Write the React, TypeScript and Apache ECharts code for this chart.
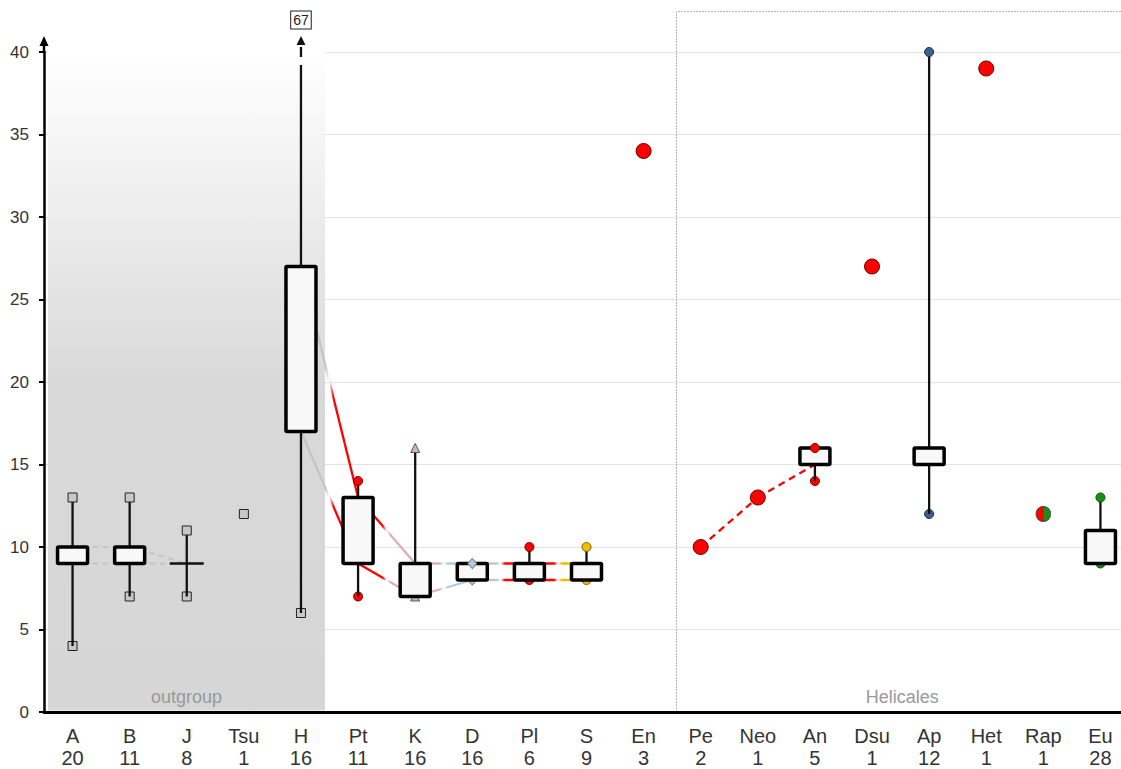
import React, { useEffect, useRef } from "react";
import * as echarts from "echarts";

const categories = ["A", "B", "J", "Tsu", "H", "Pt", "K", "D", "Pl", "S", "En", "Pe", "Neo", "An", "Dsu", "Ap", "Het", "Rap", "Eu"];
const counts = [20, 11, 8, 1, 16, 11, 16, 16, 6, 9, 3, 2, 1, 5, 1, 12, 1, 1, 28];

// box statistics (null = no box for that group)
const boxMin = [4, 7, 7, null, 6, 7, 7, 8, 8, 8, null, null, null, 14, null, 12, null, null, 9];
const boxQ1 = [9, 9, 9, null, 17, 9, 7, 8, 8, 8, null, null, null, 15, null, 15, null, null, 9];
const boxQ3 = [10, 10, 9, null, 27, 13, 9, 9, 9, 9, null, null, null, 16, null, 16, null, null, 11];
const boxMax = [13, 13, 11, null, 67, 14, 16, 9, 10, 10, null, null, null, 16, null, 40, null, null, 13];

// single observations
const singleValues = [null, null, null, 12, null, null, null, null, null, null, 34, 10, 13, null, 27, null, 39, 12, null];

// links between consecutive groups (Q3->Q3 and Q1->Q1)
const outgroupPairs = [["A", "B"], ["B", "J"]];
const gradientPairs = [["H", "Pt"], ["Pt", "K"], ["K", "D"], ["D", "Pl"], ["Pl", "S"]];
const helicalesTrend = ["Pe", "Neo", "An"];

const Y_MIN = 0;
const Y_MAX = 40;
const Y_STEP = 5;

const FONT = "'Liberation Sans', Arial, sans-serif";

const GRAY = "#c8c8c8";
const RED = "#ff0000";
const catColor = [GRAY, GRAY, GRAY, GRAY, GRAY, RED, "#d8b2b2", "#b3cae2", RED, "#f4bb00", RED, RED, RED, RED, RED, "#3c6091", RED, RED, "#169016"];
const catBorder = ["#222", "#222", "#222", "#222", "#222", "#700", "#555", "#777", "#700", "#7a5a00", "#600", "#600", "#600", "#700", "#600", "#1c2c44", "#600", "#333", "#0b4d0b"];
const catSymbol = ["rect", "rect", "rect", "rect", "rect", "circle", "triangle", "diamond", "circle", "circle", "circle", "circle", "circle", "circle", "circle", "circle", "circle", "circle", "circle"];
const linkColor = ["#c4c4c4", "#c4c4c4", "#c4c4c4", "#c4c4c4", "#c4c4c4", RED, "#d8b0b0", "#b3cae2", RED, "#f4bb00"];
const splitColors = ["#ff0000", "#169016"]; // Rap: left / right half

const idx = (c: string) => categories.indexOf(c);
const pointValue = (i: number) => (singleValues[i] != null ? singleValues[i] : boxQ1[i]);

type Link = { x1: number; v1: number; x2: number; v2: number; kind: string };
const links: Link[] = [];
outgroupPairs.forEach(([a, b]) => {
  const i = idx(a), j = idx(b);
  links.push({ x1: i, v1: boxQ3[i] as number, x2: j, v2: boxQ3[j] as number, kind: "grayDash" });
  links.push({ x1: i, v1: boxQ1[i] as number, x2: j, v2: boxQ1[j] as number, kind: "grayDash" });
});
gradientPairs.forEach(([a, b]) => {
  const i = idx(a), j = idx(b);
  links.push({ x1: i, v1: boxQ3[i] as number, x2: j, v2: boxQ3[j] as number, kind: "gradient" });
  links.push({ x1: i, v1: boxQ1[i] as number, x2: j, v2: boxQ1[j] as number, kind: "gradient" });
});
for (let k = 0; k + 1 < helicalesTrend.length; k++) {
  const i = idx(helicalesTrend[k]), j = idx(helicalesTrend[k + 1]);
  links.push({ x1: i, v1: pointValue(i) as number, x2: j, v2: pointValue(j) as number, kind: "redDash" });
}

const App: React.FC = () => {
  const ref = useRef<HTMLDivElement>(null);

  useEffect(() => {
    if (!ref.current) return;
    const chart = echarts.init(ref.current, null, { renderer: "svg" });

    const boxData = categories
      .map((c, i) => (boxQ1[i] != null ? [i, boxMin[i], boxQ1[i], boxQ3[i], boxMax[i]] : null))
      .filter((d) => d != null);

    const minMarkers: any[] = [];
    const maxMarkers: any[] = [];
    categories.forEach((c, i) => {
      if (boxQ1[i] == null) return;
      const st = {
        symbol: catSymbol[i],
        symbolSize: catSymbol[i] === "diamond" ? [9, 10] : 9,
        itemStyle: { color: catColor[i], borderColor: catBorder[i], borderWidth: 1, opacity: 1 },
      };
      minMarkers.push({ value: [i, boxMin[i]], ...st });
      if ((boxMax[i] as number) <= Y_MAX) maxMarkers.push({ value: [i, boxMax[i]], ...st });
    });

    const singles: any[] = [];
    categories.forEach((c, i) => {
      if (singleValues[i] == null) return;
      if (c === "Rap") {
        singles.push({
          value: [i, singleValues[i]],
          symbol: "path://M10 0 A10 10 0 0 0 10 20 Z",
          symbolSize: [7.5, 15],
          symbolOffset: [-3.75, 0],
          itemStyle: { color: splitColors[0], borderColor: "#444", borderWidth: 0.8, opacity: 1 },
        });
        singles.push({
          value: [i, singleValues[i]],
          symbol: "path://M0 0 A10 10 0 0 1 0 20 Z",
          symbolSize: [7.5, 15],
          symbolOffset: [3.75, 0],
          itemStyle: { color: splitColors[1], borderColor: "#444", borderWidth: 0.8, opacity: 1 },
        });
      } else if (catSymbol[i] === "rect") {
        singles.push({
          value: [i, singleValues[i]],
          symbol: "rect",
          symbolSize: 9,
          itemStyle: { color: catColor[i], borderColor: catBorder[i], borderWidth: 1, opacity: 1 },
        });
      } else {
        singles.push({
          value: [i, singleValues[i]],
          symbol: "circle",
          symbolSize: 15,
          itemStyle: { color: catColor[i], borderColor: catBorder[i], borderWidth: 1, opacity: 1 },
        });
      }
    });

    const option: any = {
      animation: false,
      grid: { left: 44, right: 11, top: 52, bottom: 56 },
      xAxis: {
        type: "category",
        data: categories,
        z: 3,
        axisLine: { lineStyle: { color: "#000", width: 3 } },
        axisTick: { show: false },
        splitLine: { show: false },
        axisLabel: {
          interval: 0,
          margin: 13,
          fontSize: 20,
          lineHeight: 22,
          color: "#333",
          fontFamily: FONT,
          formatter: (v: string, i: number) => `${v}\n${counts[i]}`,
        },
      },
      yAxis: {
        type: "value",
        min: Y_MIN,
        max: Y_MAX,
        interval: Y_STEP,
        axisLine: { show: true, lineStyle: { color: "#000", width: 2.5 } },
        axisTick: { show: true, length: 5, lineStyle: { color: "#000", width: 2 } },
        axisLabel: { margin: 15, fontSize: 17, color: "#333", fontFamily: FONT },
        splitLine: { lineStyle: { color: "#e3e3e3", width: 1 } },
      },
      series: [
        {
          type: "custom",
          name: "links",
          z: 2,
          encode: { x: [0, 2], y: [1, 3] },
          data: links.map((l) => [l.x1, l.v1, l.x2, l.v2]),
          renderItem: (params: any, api: any) => {
            const l = links[params.dataIndex];
            const p1 = api.coord([l.x1, l.v1]);
            const p2 = api.coord([l.x2, l.v2]);
            let style: any;
            if (l.kind === "grayDash") {
              style = { stroke: "#c6c6c6", lineWidth: 2, lineDash: [6, 4] };
            } else if (l.kind === "redDash") {
              style = { stroke: RED, lineWidth: 2.3, lineDash: [7, 5] };
            } else {
              const a = linkColor[l.x1];
              const b = linkColor[l.x2];
              style = {
                stroke: new echarts.graphic.LinearGradient(
                  p1[0], p1[1], p2[0], p1[1],
                  [
                    { offset: 0, color: a },
                    { offset: 0.43, color: a },
                    { offset: 0.5, color: "#ffffff" },
                    { offset: 0.57, color: b },
                    { offset: 1, color: b },
                  ],
                  true
                ),
                lineWidth: 2.3,
              };
            }
            return {
              type: "line",
              shape: { x1: p1[0], y1: p1[1], x2: p2[0], y2: p2[1] },
              style,
            };
          },
        },
        {
          type: "scatter",
          name: "min",
          z: 3,
          clip: false,
          data: minMarkers,
        },
        {
          type: "custom",
          name: "boxes",
          z: 4,
          encode: { x: 0, y: [1, 2, 3, 4] },
          data: boxData,
          renderItem: (params: any, api: any) => {
            const i = api.value(0);
            const mn = api.value(1), q1 = api.value(2), q3 = api.value(3), mx = api.value(4);
            const cx = api.coord([i, mn])[0];
            const yMin = api.coord([i, mn])[1];
            const yQ1 = api.coord([i, q1])[1];
            const yQ3 = api.coord([i, q3])[1];
            const yTop = api.coord([i, Y_MAX])[1];
            const ws = { stroke: "#111", lineWidth: 2.3 };
            const ch: any[] = [];
            ch.push({ type: "line", shape: { x1: cx, y1: yMin, x2: cx, y2: yQ1 }, style: ws });
            if (mx > Y_MAX) {
              ch.push({ type: "line", shape: { x1: cx, y1: yQ3, x2: cx, y2: yTop + 13 }, style: ws });
              ch.push({ type: "line", shape: { x1: cx, y1: yTop + 5, x2: cx, y2: yTop - 5 }, style: ws });
              ch.push({
                type: "polygon",
                shape: { points: [[cx, yTop - 16], [cx - 4.5, yTop - 7], [cx + 4.5, yTop - 7]] },
                style: { fill: "#111" },
              });
              ch.push({
                type: "text",
                style: {
                  text: String(mx),
                  x: cx,
                  y: yTop - 32,
                  align: "center",
                  verticalAlign: "middle",
                  fontSize: 14,
                  fontFamily: FONT,
                  fill: "#222",
                  backgroundColor: "#fff",
                  borderColor: "#222",
                  borderWidth: 1,
                  padding: [2, 2, 1, 2],
                },
              });
            } else {
              const yMax = api.coord([i, mx])[1];
              ch.push({ type: "line", shape: { x1: cx, y1: yQ3, x2: cx, y2: yMax }, style: ws });
            }
            if (q1 === q3) {
              ch.push({ type: "line", shape: { x1: cx - 17, y1: yQ1, x2: cx + 17, y2: yQ1 }, style: ws });
            } else {
              ch.push({
                type: "rect",
                shape: { x: cx - 15, y: yQ3, width: 30, height: yQ1 - yQ3, r: 1 },
                style: { fill: "#f8f8f8", stroke: "#000", lineWidth: 3.5, lineJoin: "round" },
              });
            }
            return { type: "group", children: ch };
          },
        },
        {
          type: "scatter",
          name: "max",
          z: 5,
          clip: false,
          data: maxMarkers,
        },
        {
          type: "scatter",
          name: "singles",
          z: 5,
          clip: false,
          data: singles,
        },
      ],
    };

    chart.setOption(option);

    // decorations computed from the axes
    const px = (i: number, v: number) => chart.convertToPixel({ gridIndex: 0 }, [i, v]) as number[];
    const bw = px(1, 0)[0] - px(0, 0)[0];
    const yBottom = px(0, Y_MIN)[1];
    const yTop = px(0, Y_MAX)[1];
    const axisX = px(0, 0)[0] - bw / 2;
    const ogL = px(idx("A"), 0)[0] - bw / 2 + 4;
    const ogR = px(idx("H"), 0)[0] + bw / 2 - 4.5;
    const heL = Math.round(px(idx("Pe"), 0)[0] - bw / 2 + 4) + 0.5;
    const heR = px(idx("Eu"), 0)[0] + bw / 2 + 20;
    const heTop = Math.round(yTop - 41) + 0.5;

    chart.setOption({
      graphic: [
        {
          type: "rect",
          z: 1,
          silent: true,
          shape: { x: ogL, y: yTop, width: ogR - ogL, height: yBottom - yTop - 1.5 },
          style: {
            fill: new echarts.graphic.LinearGradient(0, 0, 0, 1, [
              { offset: 0, color: "#ffffff" },
              { offset: 0.5, color: "#d9d9d9" },
              { offset: 1, color: "#d6d6d6" },
            ]),
          },
        },
        {
          type: "text",
          z: 1,
          silent: true,
          style: {
            text: "outgroup",
            x: (ogL + ogR) / 2,
            y: yBottom - 15,
            align: "center",
            verticalAlign: "middle",
            fill: "#999",
            fontSize: 18,
            fontFamily: FONT,
          },
        },
        {
          type: "polyline",
          z: 1,
          silent: true,
          shape: { points: [[heL, yBottom], [heL, heTop], [heR, heTop]] },
          style: { fill: "none", stroke: "#b5b5b5", lineWidth: 1, lineDash: [2, 1] },
        },
        {
          type: "text",
          z: 1,
          silent: true,
          style: {
            text: "Helicales",
            x: (heL + Math.min(heR, 1128)) / 2,
            y: yBottom - 15,
            align: "center",
            verticalAlign: "middle",
            fill: "#999",
            fontSize: 18,
            fontFamily: FONT,
          },
        },
        {
          type: "line",
          z: 3,
          silent: true,
          shape: { x1: axisX, y1: yTop + 1, x2: axisX, y2: yTop - 8 },
          style: { stroke: "#000", lineWidth: 2.5 },
        },
        {
          type: "polygon",
          z: 3,
          silent: true,
          shape: { points: [[axisX, yTop - 16], [axisX - 4.5, yTop - 6], [axisX + 4.5, yTop - 6]] },
          style: { fill: "#000" },
        },
      ],
    });

    return () => chart.dispose();
  }, []);

  return (
    <div style={{ position: "fixed", left: 0, top: 0, width: 1121, height: 769, overflow: "hidden", background: "#fff" }}>
      <div ref={ref} style={{ width: 1140, height: 769 }} />
    </div>
  );
};

export default App;
